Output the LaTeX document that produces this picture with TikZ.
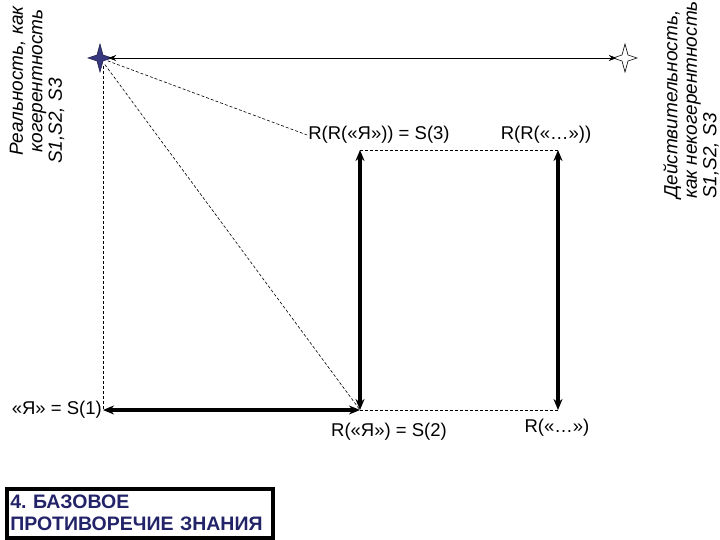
\documentclass[tikz,border=0pt]{standalone}
\usepackage{fontspec}
\setmainfont{Liberation Sans}
\usetikzlibrary{arrows.meta}
\definecolor{darkstar}{RGB}{55,55,125}
\definecolor{navytext}{RGB}{35,35,105}
\frenchspacing

\tikzset{
  thickarrow/.style={{Stealth[length=11pt,width=9pt]}-{Stealth[length=11pt,width=9pt]}, line width=3.5pt},
  thinarrow/.style={{Stealth[length=8pt,width=6pt]}-{Stealth[length=8pt,width=6pt]}, line width=0.8pt},
  guide/.style={dash pattern=on 3pt off 2pt, line width=0.6pt},
  lbl/.style={font=\fontsize{18.5}{20}\selectfont, inner sep=1pt},
  sidetext/.style={font=\fontsize{19}{19.5}\selectfont\itshape, rotate=90, inner sep=0pt},
  starspot/.style={circle, minimum size=16pt, inner sep=0pt},
  fourstar/.pic={\path[pic actions] (0,-14) -- (3,-3) -- (12,0) -- (3,3) -- (0,14) -- (-3,3) -- (-12,0) -- (-3,-3) -- cycle;}
}

\begin{document}
\begin{tikzpicture}[x=1pt,y=-1pt]
	\useasboundingbox (0,0) rectangle (720,540);
	% the two stars
	\pic[fill=darkstar, draw=darkstar!60!black, line width=0.6pt] at (100,58) {fourstar};
	\pic[fill=white, draw=black, line width=0.6pt] at (625,58) {fourstar};
	\node (reality) [starspot] at (100,58) {};
	\node (actuality) [starspot] at (625,58) {};
	\draw[thinarrow] (reality) -- (actuality);

	\coordinate (s1) at (103,410);
	\coordinate (s2) at (360,410);
	\coordinate (s3) at (360,150);
	\coordinate (t3) at (558,150);
	\coordinate (t2) at (558,410);

	\node (lblS1) [lbl, left] at (s1) {«Я» = S(1)};
	\node (lblS2) [lbl] at (389,432) {R(«Я») = S(2)};
	\node (lblT2) [lbl] at (557,428) {R(«…»)};
	\node (lblS3) [lbl] at (379,135) {R(R(«Я»)) = S(3)};
	\node (lblT3) [lbl] at (546,135) {R(R(«…»))};

	% dashed guides
	\draw[guide] (s1 |- reality.south) -- (s1);
	\draw[guide] (reality) -- (s2);
	\draw[guide] (reality) -- (lblS3.west);
	\draw[guide] (s3) -- (t3);
	\draw[guide] (s2) -- (t2);

	\draw[thickarrow] (s1) -- (s2);
	\draw[thickarrow] (s2) -- (s3);
	\draw[thickarrow] (t2) -- (t3);

	\node (leftnote) [sidetext, align=center] at (37,81) {Реальность, как\\когерентность\\S1,S2, S3\hspace*{80pt}};
	\node (rightnote) [sidetext, align=left] at (691,100) {Действительность,\\как некогерентность\\S1,S2, S3};

	\node (title) [draw, line width=3.5pt, anchor=north west, minimum width=266pt, minimum height=49pt,
		text width=259pt, inner xsep=3pt, align=left, text=navytext,
		font=\bfseries\fontsize{19.5}{22}\selectfont] at (5,487) {4. БАЗОВОЕ\\ПРОТИВОРЕЧИЕ ЗНАНИЯ};
\end{tikzpicture}
\end{document}
